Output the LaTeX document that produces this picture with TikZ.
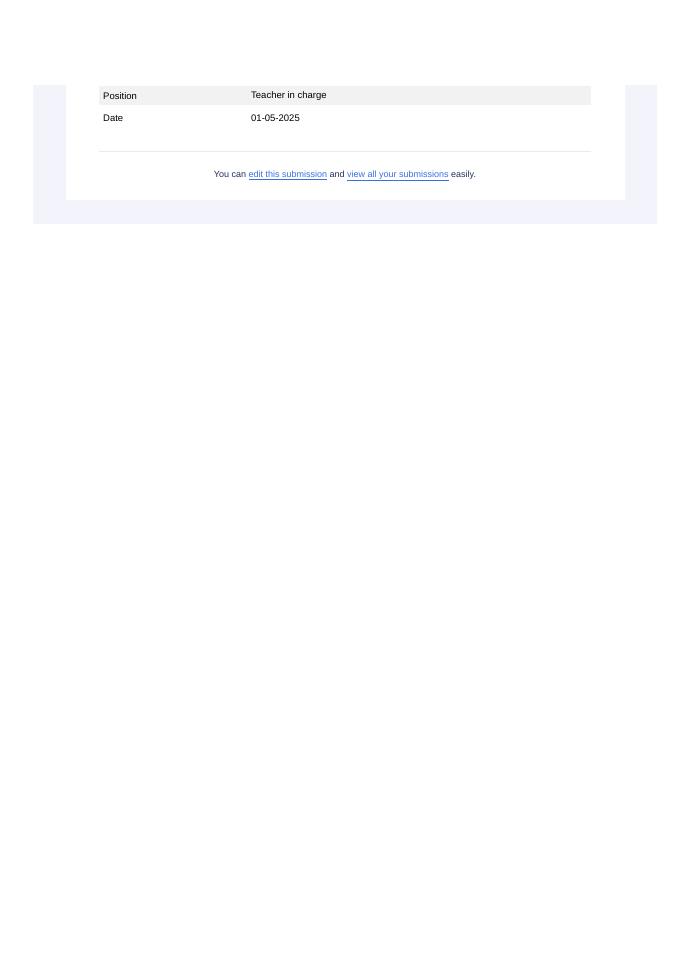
\documentclass[tikz,border=0pt]{standalone}
\usepackage{fontspec}
\setmainfont{Liberation Sans}
\definecolor{pagebg}{HTML}{F3F3FC}
\definecolor{rowgrey}{HTML}{F2F2F2}
\definecolor{linegrey}{HTML}{EBEBEB}
\definecolor{footnavy}{HTML}{25305E}
\definecolor{linkblue}{HTML}{3A6FE0}
\newcommand{\linktext}[1]{\textcolor{linkblue}{\underline{#1}}}
\tikzset{
    celltext/.style={anchor=west, inner sep=0pt, font=\fontsize{9.5}{11}\selectfont},
    foottext/.style={inner sep=0pt, font=\fontsize{9}{11}\selectfont, text=footnavy}
}
\begin{document}
\begin{tikzpicture}[x=1pt, y=-1pt]
    \useasboundingbox (0,0) rectangle (690,976);
    \fill[white] (0,0) rectangle (690,976);
    % outer band and card
    \fill[pagebg] (33,85) rectangle (657,224);
    \fill[white] (66,85) rectangle (625,200);
    % table rows
    \fill[rowgrey] (99,86) rectangle (591,105);
    \draw[linegrey] (99,151) -- (591,151);
    \node[celltext] (poskey) at (103,96) {Position};
    \node[celltext] (posval) at (251,96) {Teacher in charge};
    \node[celltext] (datekey) at (103,118) {Date};
    \node[celltext] (dateval) at (251,118) {01-05-2025};
    % footer
    \node[foottext] (foot) at (345,176) {You can \linktext{edit this submission} and \linktext{view all your submissions} easily.};
\end{tikzpicture}
\end{document}
